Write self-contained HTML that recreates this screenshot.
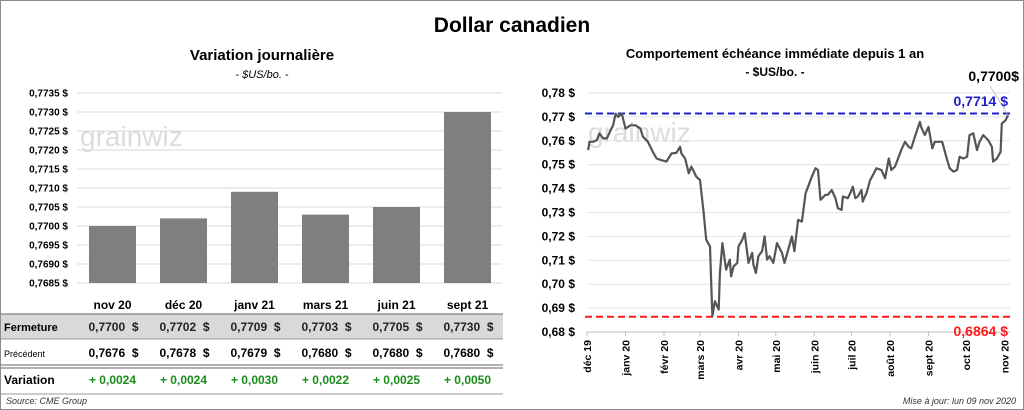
<!DOCTYPE html>
<html><head><meta charset="utf-8"><style>
body{margin:0;background:#fff;}
svg{display:block;font-family:"Liberation Sans",sans-serif;}
</style></head><body>
<svg id="c" width="1024" height="410" viewBox="0 0 1024 410">
<rect x="0.5" y="0.5" width="1023" height="409" fill="#fff" stroke="#8c8c8c"/>
<text x="512" y="32" text-anchor="middle" font-size="21" font-weight="bold">Dollar canadien</text>
<text x="262" y="60" text-anchor="middle" font-size="15" font-weight="bold">Variation  journalière</text>
<text x="262" y="78" text-anchor="middle" font-size="11" font-style="italic">- $US/bo. -</text>
<text x="775" y="58" text-anchor="middle" font-size="13" font-weight="bold">Comportement échéance immédiate depuis 1 an</text>
<text x="775" y="76" text-anchor="middle" font-size="12" font-weight="bold">- $US/bo. -</text>
<text x="80" y="146" font-size="28" fill="#dcdcdc">grainwiz</text>
<text x="588" y="142" font-size="28" fill="#dcdcdc">grainwiz</text>
<g id="left"></g><g id="right"></g><g id="table"></g>
<text x="6" y="404" font-size="9" font-style="italic" fill="#333">Source: CME Group</text>
<text x="1016" y="404" text-anchor="end" font-size="9" font-style="italic" fill="#333">Mise à jour: lun 09 nov 2020</text>
</svg>
<script>
const barCats=["nov 20","déc 20","janv 21","mars 21","juin 21","sept 21"];
const barVals=[0.7700,0.7702,0.7709,0.7703,0.7705,0.7730];
const prevVals=[0.7676,0.7678,0.7679,0.7680,0.7680,0.7680];
const variationVals=[0.0024,0.0024,0.0030,0.0022,0.0025,0.0050];
const leftTicks=[0.7685,0.7690,0.7695,0.7700,0.7705,0.7710,0.7715,0.7720,0.7725,0.7730,0.7735];
const lineDays=[1,2,5,8,10,13,16,19,21,23,25,28,31,35,39,43,45,49,53,56,60,64,68,72,75,76,79,82,84,86,88,91,94,96,99,100,101,103,106,107,109,112,115,116,118,121,122,125,127,130,133,134,136,138,141,143,145,147,150,153,157,159,162,165,167,170,173,176,178,181,184,186,188,192,194,197,200,202,205,206,210,212,214,216,218,221,222,225,228,231,233,237,240,243,245,248,251,253,256,259,261,264,268,269,272,275,278,280,286,290,292,295,298,300,303,306,308,311,314,316,319,323,326,327,330,333,334,337,339];
const lineVals=[.7561,.7596,.7596,.7603,.7631,.7610,.7610,.7644,.7665,.7714,.7700,.7714,.7651,.7665,.7665,.7651,.7617,.7596,.7554,.7526,.7519,.7513,.7547,.7550,.7575,.7547,.7526,.7464,.7492,.7471,.7450,.7436,.7297,.7186,.7158,.7006,.6867,.6929,.6894,.7047,.7172,.7061,.7103,.7033,.7075,.7089,.7158,.7186,.7214,.7089,.7131,.7082,.7047,.7117,.7138,.7200,.7103,.7117,.7089,.7172,.7131,.7089,.7144,.7200,.7138,.7269,.7262,.7381,.7408,.7450,.7485,.7478,.7353,.7374,.7374,.7394,.7360,.7318,.7311,.7367,.7360,.7381,.7408,.7360,.7367,.7394,.7346,.7381,.7436,.7464,.7485,.7478,.7443,.7526,.7478,.7492,.7533,.7561,.7596,.7575,.7568,.7617,.7679,.7658,.7624,.7658,.7568,.7596,.7596,.7519,.7485,.7471,.7478,.7533,.7526,.7533,.7624,.7631,.7561,.7596,.7624,.7603,.7575,.7513,.7526,.7554,.7672,.7686,.7707];
const rightTicks=[0.68,0.69,0.70,0.71,0.72,0.73,0.74,0.75,0.76,0.77,0.78];
const monthLabels=["déc 19","janv 20","févr 20","mars 20","avr 20","mai 20","juin 20","juil 20","août 20","sept 20","oct 20","nov 20"];
const monthDays=[0,31,62,91,122,152,183,213,244,275,305,336];
const highVal=0.7714, lowVal=0.6864, lastVal=0.7700;
const NS="http://www.w3.org/2000/svg";
function mk(p,t,a,txt){const e=document.createElementNS(NS,t);for(const k in a)e.setAttribute(k,a[k]);if(txt!==undefined)e.textContent=txt;p.appendChild(e);return e;}
const fmt=(v,d)=>v.toFixed(d).replace('.',',');
// left chart
const L=document.getElementById('left');
const ly=v=>93+(0.7735-v)/0.0005*19;
const lx0=77,lband=71;
leftTicks.forEach(t=>{
 const g=mk(L,'line',{x1:lx0,x2:502,y1:ly(t),y2:ly(t),stroke:'#d9d9d9'});
 
 
 const tx=mk(L,'text',{x:68,y:ly(t)+3.5,'text-anchor':'end','font-size':10,'font-weight':'bold'},fmt(t,4)+' $');
 
 
});
barCats.forEach((c,i)=>{
 const cx=lx0+lband*(i+0.5);
 const r=mk(L,'rect',{x:cx-23.5,y:ly(barVals[i]),width:47,height:ly(0.7685)-ly(barVals[i]),fill:'#7f7f7f'});
 
 
 const t=mk(L,'text',{x:cx,y:309,'text-anchor':'middle','font-size':12,'font-weight':'bold'},c);
 
 
});
// table
const T=document.getElementById('table');
mk(T,'rect',{x:1,y:314,width:502,height:25,fill:'#d9d9d9'});
mk(T,'line',{x1:1,x2:503,y1:314,y2:314,stroke:'#666'});
mk(T,'line',{x1:1,x2:503,y1:339,y2:339,stroke:'#999'});
mk(T,'line',{x1:1,x2:503,y1:365,y2:365,stroke:'#666'});
mk(T,'line',{x1:1,x2:503,y1:368,y2:368,stroke:'#666'});
mk(T,'line',{x1:1,x2:503,y1:394,y2:394,stroke:'#999'});
const rl=[["Fermeture",331,11,'bold'],["Précédent",357,9,'normal'],["Variation",384,12,'bold']];
rl.forEach(r=>{const t=mk(T,'text',{x:4,y:r[1],'font-size':r[2],'font-weight':r[3]},r[0]);
 
 });
barCats.forEach((c,i)=>{
 const cx=lx0+lband*(i+0.5);
 const a=mk(T,'text',{x:cx+26,y:331,'text-anchor':'end','font-size':12,'font-weight':'bold',fill:'#222'},fmt(barVals[i],4)+'  $');
 
 
 const b=mk(T,'text',{x:cx+26,y:357,'text-anchor':'end','font-size':12,'font-weight':'bold'},fmt(prevVals[i],4)+'  $');
 
 
 const d=mk(T,'text',{x:cx,y:384,'text-anchor':'middle','font-size':12,'font-weight':'bold',fill:'#1a8c1a'},'+ '+fmt(variationVals[i],4));
 
 
});
T.querySelectorAll('text').forEach(e=>e.style.whiteSpace='pre');
// right chart
const R=document.getElementById('right');
const ry=v=>93+(0.78-v)*2390;
const rx=d=>587+d*1.242;
rightTicks.forEach(t=>{
 const g=mk(R,'line',{x1:587,x2:1010,y1:ry(t),y2:ry(t),stroke:t===0.68?'#bfbfbf':'#e3e3e3'});
 
 
 const tx=mk(R,'text',{x:575,y:ry(t)+4,'text-anchor':'end','font-size':12,'font-weight':'bold'},fmt(t,2)+' $');
 
 
});
monthLabels.forEach((m,i)=>{
 const x=rx(monthDays[i]);
 mk(R,'line',{x1:x,x2:x,y1:ry(0.68),y2:ry(0.68)+4,stroke:'#bfbfbf'});
 const t=mk(R,'text',{transform:`translate(${x+4},${ry(0.68)+8}) rotate(-90)`,'text-anchor':'end','font-size':10.5,'font-weight':'bold'},m);
 
 
});
const hl=mk(R,'line',{x1:585,x2:1010,y1:ry(highVal),y2:ry(highVal),stroke:'#1f1fcc','stroke-width':2,'stroke-dasharray':'7,4'});


const lo=mk(R,'line',{x1:585,x2:1010,y1:ry(lowVal),y2:ry(lowVal),stroke:'#ff1a1a','stroke-width':2,'stroke-dasharray':'7,4'});


const pts=lineDays.map((d,i)=>rx(d).toFixed(1)+','+ry(lineVals[i]).toFixed(1)).join(' ');
const pl=mk(R,'polyline',{points:pts,fill:'none',stroke:'#555','stroke-width':2.2,'stroke-linejoin':'round'});


const ht=mk(R,'text',{x:1008,y:106,'text-anchor':'end','font-size':14,'font-weight':'bold',fill:'#2020cc'},fmt(highVal,4)+' $');


const lt=mk(R,'text',{x:1008,y:336,'text-anchor':'end','font-size':14,'font-weight':'bold',fill:'#ff1a1a'},fmt(lowVal,4)+' $');


const lastX=rx(lineDays[lineDays.length-1]);
mk(R,'line',{x1:lastX,y1:ry(lineVals[lineVals.length-1]),x2:990,y2:86,stroke:'#aaa','stroke-width':0.7});
const la=mk(R,'text',{x:1019,y:81,'text-anchor':'end','font-size':14,'font-weight':'bold'},fmt(lastVal,4)+'$');


</script>
</body></html>
